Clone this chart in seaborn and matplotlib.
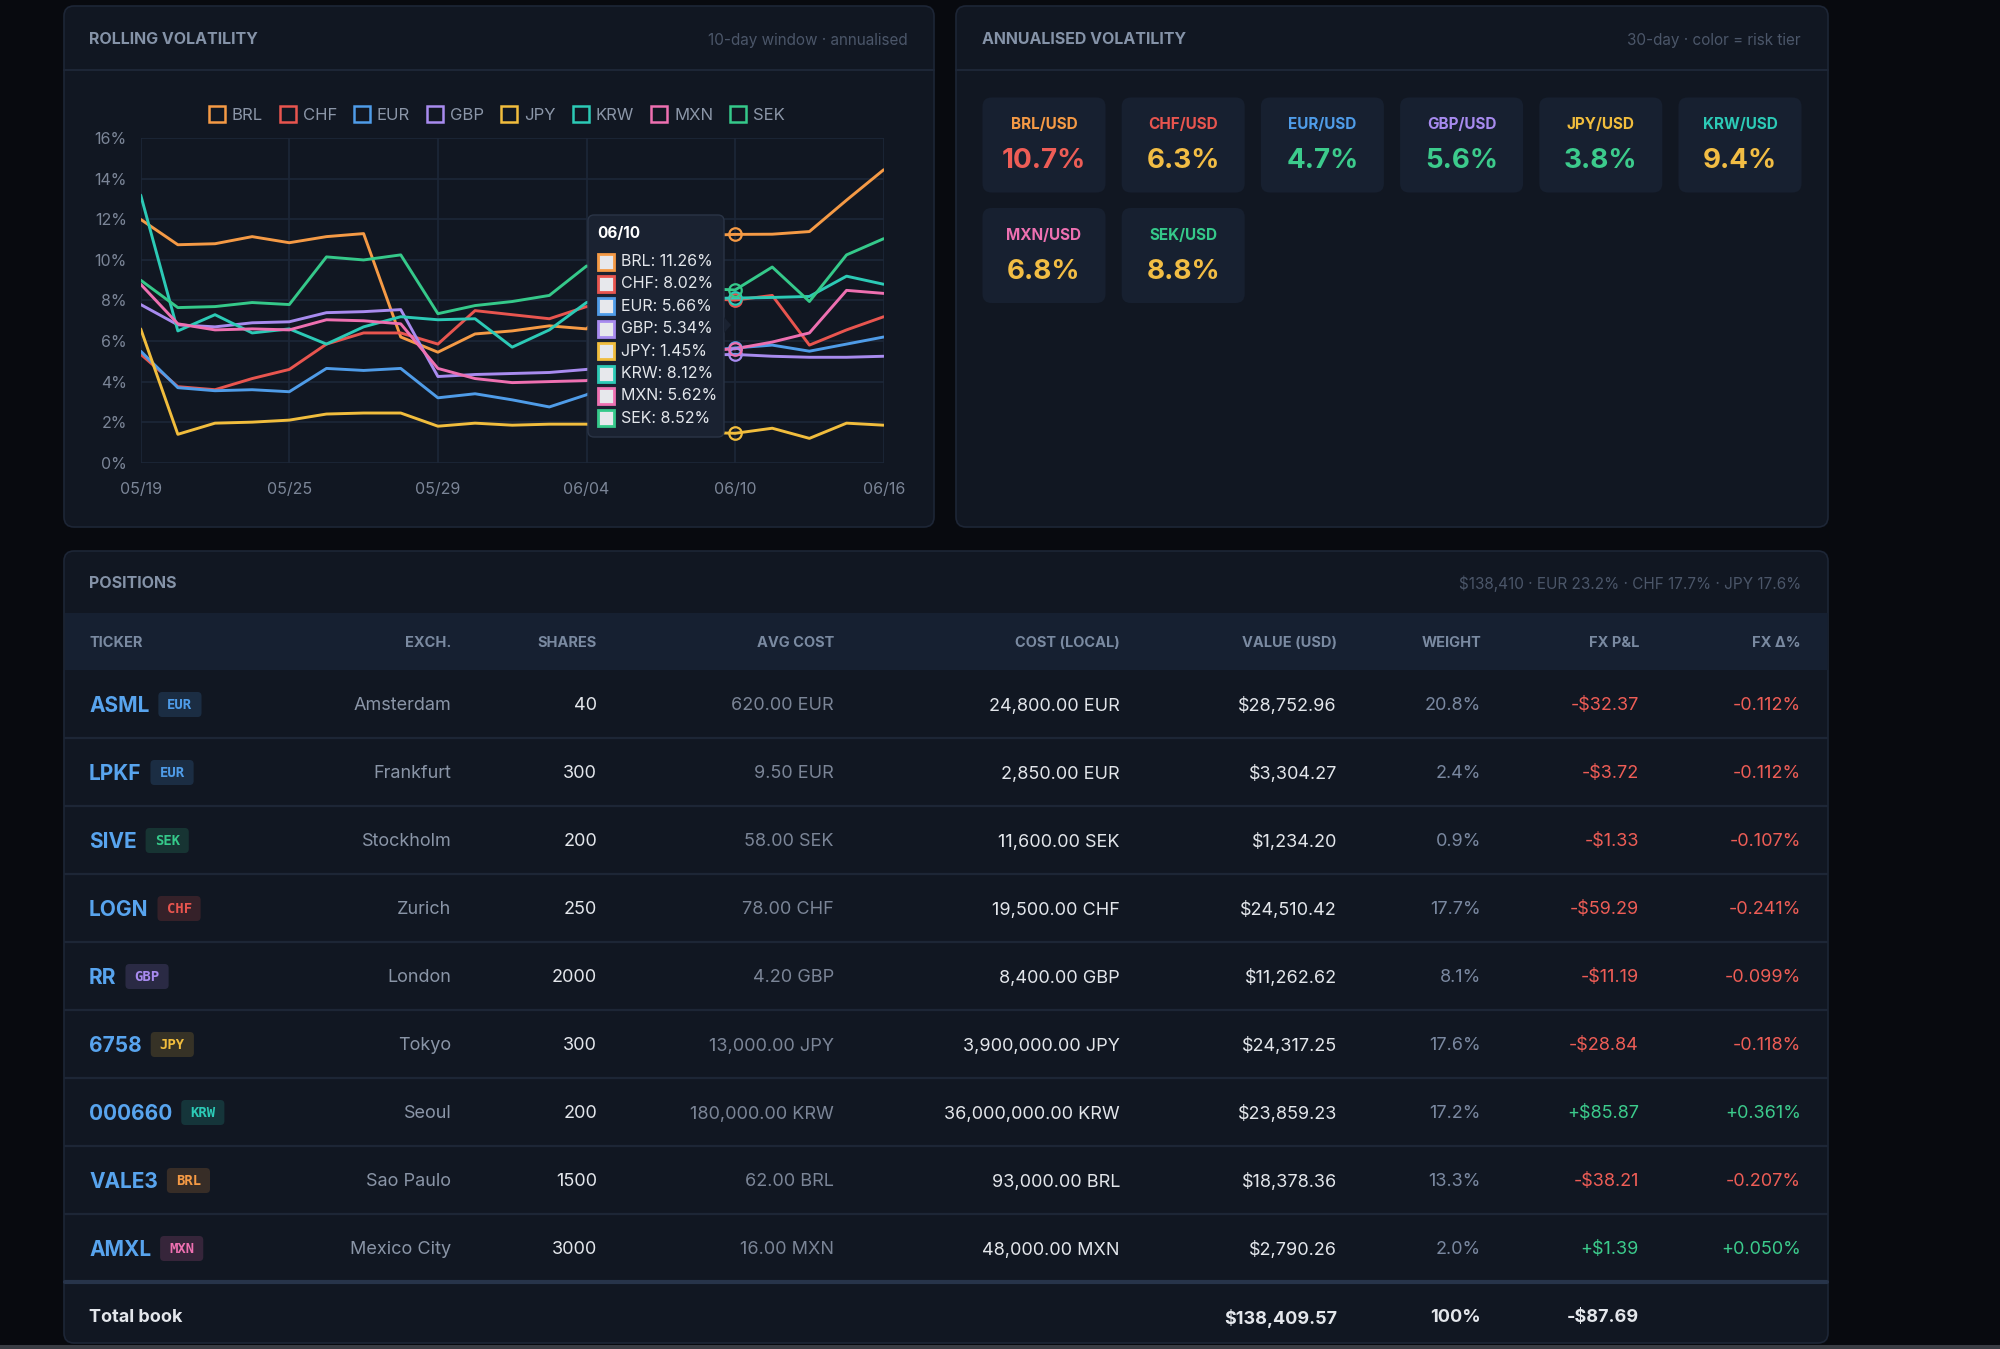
import matplotlib
matplotlib.use("Agg")
import matplotlib.pyplot as plt
import matplotlib.colors as mcolors
from matplotlib.patches import FancyBboxPatch, Rectangle, Polygon
from matplotlib.lines import Line2D
import numpy as np
import pandas as pd
import seaborn as sns

W, H = 2000, 1349

# ---- rolling volatility (10-day, annualised, %) ----
dates = ["05/19", "05/20", "05/21", "05/22", "05/25", "05/26", "05/27", "05/28",
         "05/29", "06/01", "06/02", "06/03", "06/04", "06/05", "06/08", "06/09",
         "06/10", "06/11", "06/12", "06/15", "06/16"]
currencies = ["BRL", "CHF", "EUR", "GBP", "JPY", "KRW", "MXN", "SEK"]
brl = [12.0, 10.75, 10.8, 11.15, 10.85, 11.15, 11.3, 6.2, 5.45, 6.35, 6.5, 6.75, 6.6,
       8.4, 10.6, 11.2, 11.26, 11.27, 11.4, 12.95, 14.45]
chf = [5.35, 3.75, 3.6, 4.15, 4.6, 5.85, 6.4, 6.4, 5.85, 7.5, 7.3, 7.1, 7.7,
       7.5, 7.9, 8.1, 8.02, 8.25, 5.8, 6.55, 7.2]
eur = [5.5, 3.7, 3.55, 3.6, 3.5, 4.65, 4.55, 4.65, 3.2, 3.4, 3.1, 2.75, 3.35,
       4.2, 5.0, 5.5, 5.66, 5.8, 5.5, 5.85, 6.2]
gbp = [7.8, 6.8, 6.7, 6.9, 6.95, 7.4, 7.45, 7.55, 4.25, 4.35, 4.4, 4.45, 4.6,
       4.9, 5.2, 5.3, 5.34, 5.25, 5.2, 5.2, 5.25]
jpy = [6.6, 1.4, 1.95, 2.0, 2.1, 2.4, 2.45, 2.45, 1.8, 1.95, 1.85, 1.9, 1.9,
       1.8, 1.6, 1.5, 1.45, 1.7, 1.2, 1.95, 1.85]
krw = [13.2, 6.5, 7.3, 6.4, 6.6, 5.85, 6.7, 7.2, 7.05, 7.1, 5.7, 6.55, 7.9,
       8.3, 8.0, 8.1, 8.12, 8.15, 8.2, 9.2, 8.8]
mxn = [8.8, 6.85, 6.55, 6.6, 6.55, 7.05, 7.0, 6.85, 4.65, 4.15, 3.95, 4.0, 4.05,
       4.6, 5.2, 5.5, 5.62, 5.95, 6.4, 8.5, 8.35]
sek = [9.0, 7.65, 7.7, 7.9, 7.8, 10.15, 10.0, 10.25, 7.35, 7.75, 7.95, 8.25, 9.7,
       9.4, 9.0, 8.6, 8.52, 9.65, 7.95, 10.25, 11.05]
hover_date = "06/10"

# ---- 30-day annualised vol cards ----
vol_30d = [10.7, 6.3, 4.7, 5.6, 3.8, 9.4, 6.8, 8.8]

# ---- positions ----
tickers = ["ASML", "LPKF", "SIVE", "LOGN", "RR", "6758", "000660", "VALE3", "AMXL"]
pos_ccy = ["EUR", "EUR", "SEK", "CHF", "GBP", "JPY", "KRW", "BRL", "MXN"]
exchanges = ["Amsterdam", "Frankfurt", "Stockholm", "Zurich", "London", "Tokyo",
             "Seoul", "Sao Paulo", "Mexico City"]
shares = [40, 300, 200, 250, 2000, 300, 200, 1500, 3000]
avg_cost = [620.00, 9.50, 58.00, 78.00, 4.20, 13000.00, 180000.00, 62.00, 16.00]
cost_local = [24800.00, 2850.00, 11600.00, 19500.00, 8400.00, 3900000.00,
              36000000.00, 93000.00, 48000.00]
value_usd = [28752.96, 3304.27, 1234.20, 24510.42, 11262.62, 24317.25, 23859.23,
             18378.36, 2790.26]
weight = [20.8, 2.4, 0.9, 17.7, 8.1, 17.6, 17.2, 13.3, 2.0]
fx_pnl = [-32.37, -3.72, -1.33, -59.29, -11.19, -28.84, 85.87, -38.21, 1.39]
fx_pct = [-0.112, -0.112, -0.107, -0.241, -0.099, -0.118, 0.361, -0.207, 0.050]
col_heads = ["TICKER", "EXCH.", "SHARES", "AVG COST", "COST (LOCAL)", "VALUE (USD)",
             "WEIGHT", "FX P&L", "FX Δ%"]
summary = "$138,410 · EUR 23.2% · CHF 17.7% · JPY 17.6%"

# colours
PAGE = "#080a0f"
PANEL = "#111722"
CARD = "#172030"
BAND = "#162031"
BORDER = "#1d2636"
GRID = "#1d2738"
TITLE = "#8593a8"
DIM = "#4b5669"
TICK = "#7b8597"
TEXT = "#e3e6eb"
RED = "#ee5d56"
GREEN = "#3ccb8c"
AMBER = "#f2bd44"
ccy_colors = {"BRL": "#f59a45", "CHF": "#e8554f", "EUR": "#4f9ce8", "GBP": "#a88bef",
              "JPY": "#f1bd3d", "KRW": "#2ccab6", "MXN": "#ee70b1", "SEK": "#35c98a"}

sns.set_theme(style="dark")
plt.rcParams["font.family"] = ["Inter", "DejaVu Sans"]

fig = plt.figure(figsize=(W / 100, H / 100), dpi=100, facecolor=PAGE)


def full_axes(z):
    a = fig.add_axes([0, 0, 1, 1], zorder=z)
    a.set_xlim(0, W)
    a.set_ylim(H, 0)
    a.axis("off")
    return a


bg = full_axes(0)


def panel(a, x0, y0, x1, y1, fc=PANEL, ec=BORDER, r=10, lw=1.2):
    a.add_patch(FancyBboxPatch((x0, y0), x1 - x0, y1 - y0,
                               boxstyle=f"round,pad=0,rounding_size={r}",
                               fc=fc, ec=ec, lw=lw))


def txt(a, x, y, s, **kw):
    kw.setdefault("va", "center")
    kw.setdefault("parse_math", False)
    return a.text(x, y, s, **kw)


# panels
panel(bg, 64, 6, 934, 527)
panel(bg, 956, 6, 1828, 527)
panel(bg, 64, 551, 1828, 1343)
bg.plot([64, 934], [70, 70], color=BORDER, lw=1.5)
bg.plot([956, 1828], [70, 70], color=BORDER, lw=1.5)
bg.add_patch(Rectangle((64.6, 613), 1763, 57, fc=BAND, ec="none"))
bg.add_patch(Rectangle((0, 1345), W, 4, fc="#3a3d44", ec="none"))

txt(bg, 89, 40, "ROLLING VOLATILITY", color=TITLE, fontsize=11.5, fontweight="bold")
txt(bg, 908, 40, "10-day window · annualised", color=DIM, fontsize=11, ha="right")
txt(bg, 982, 40, "ANNUALISED VOLATILITY", color=TITLE, fontsize=11.5, fontweight="bold")
txt(bg, 1801, 40, "30-day · color = risk tier", color=DIM, fontsize=11, ha="right")
txt(bg, 89, 584, "POSITIONS", color=TITLE, fontsize=11.5, fontweight="bold")
txt(bg, 1801, 584, summary, color=DIM, fontsize=11, ha="right")

# ---- line chart ----
ax = fig.add_axes([140.7 / W, 1 - 462.7 / H, 743 / W, 324.4 / H], zorder=1)
ax.set_facecolor("none")
series = dict(zip(currencies, [brl, chf, eur, gbp, jpy, krw, mxn, sek]))
df = pd.DataFrame(series)
df["pos"] = range(len(dates))
long = df.melt(id_vars="pos", var_name="ccy", value_name="vol")
sns.lineplot(data=long, x="pos", y="vol", hue="ccy", palette=ccy_colors,
             linewidth=2.1, legend=False, ax=ax)

hi = dates.index(hover_date)
for c in currencies:
    ax.plot(hi, series[c][hi], marker="o", ms=9, mfc="none", mec=ccy_colors[c],
            mew=1.6, zorder=5, clip_on=False)

ax.set_xlim(0, len(dates) - 1)
ax.set_ylim(0, 16)
ax.set_xticks(range(0, len(dates), 4))
ax.set_xticklabels(dates[::4])
ax.set_yticks(range(0, 17, 2))
ax.set_yticklabels([f"{v}%" for v in range(0, 17, 2)])
ax.set_xlabel("")
ax.set_ylabel("")
ax.grid(True, color=GRID, lw=1.2)
for s in ax.spines.values():
    s.set_visible(False)
ax.tick_params(axis="both", length=0, colors=TICK, labelsize=11.5)
ax.tick_params(axis="y", pad=10)
ax.tick_params(axis="x", pad=14)

handles = [Line2D([], [], ls="none", marker="s", ms=11, mfc=PANEL,
                  mec=ccy_colors[c], mew=1.8) for c in currencies]
fig.legend(handles, currencies, loc="center", bbox_to_anchor=(497 / W, 1 - 115 / H),
           ncol=len(currencies), frameon=False, fontsize=12, labelcolor="#8b96a8",
           handlelength=0.9, handletextpad=0.45, columnspacing=1.05)

ov = full_axes(5)

# tooltip
panel(ov, 588, 215, 724, 437, fc="#1a2231", ec="#2a3446", r=6, lw=1)
ov.add_patch(Polygon([(724, 317), (731, 325), (724, 333)], closed=True,
                     fc="#1a2231", ec="none"))
txt(ov, 597, 234, hover_date, color="white", fontsize=11, fontweight="bold")
for k, c in enumerate(currencies):
    yy = 261.5 + 22.4 * k
    ov.add_patch(Rectangle((597.5, yy - 8), 16, 16, fc="#e7e8ec", ec=ccy_colors[c], lw=2))
    txt(ov, 621, yy, f"{c}: {series[c][hi]:.2f}%", color=TEXT, fontsize=11.5)


# ---- volatility cards ----
def tier(v):
    if v >= 10:
        return RED
    if v >= 6:
        return AMBER
    return GREEN


for k, (c, v) in enumerate(zip(currencies, vol_30d)):
    x0 = 982.5 + (k % 6) * 139.2
    y0 = 97.5 + (k // 6) * 110.5
    panel(bg, x0, y0, x0 + 123, y0 + 95, fc=CARD, ec="none", r=9)
    txt(ov, x0 + 61.5, y0 + 27, f"{c}/USD", color=ccy_colors[c], fontsize=11,
        fontweight="bold", ha="center")
    txt(ov, x0 + 61.5, y0 + 64, f"{v:.1f}%", color=tier(v), fontsize=20,
        fontweight="bold", ha="center")

# ---- positions table ----
col_right = [None, 451.5, 597, 834, 1120, 1337, 1481, 1639, 1801]
for j, h in enumerate(col_heads):
    if j == 0:
        txt(ov, 89, 643, h, color="#7a8aa1", fontsize=10.5, fontweight="bold")
    else:
        txt(ov, col_right[j], 643, h, color="#7a8aa1", fontsize=10.5, fontweight="bold",
            ha="right")

renderer = fig.canvas.get_renderer()


def money(v):
    return ("+" if v > 0 else "-") + f"${abs(v):,.2f}"


for i in range(len(tickers)):
    yc = 704 + 68 * i
    if i < len(tickers) - 1:
        bg.plot([64.6, 1827.4], [yc + 34, yc + 34], color=BORDER, lw=1.6)
    t = txt(ov, 89, yc + 2, tickers[i], color="#58a4ee", fontsize=15, fontweight="bold")
    x_end = t.get_window_extent(renderer).x1
    cc = ccy_colors[pos_ccy[i]]
    bt = txt(ov, 0, yc + 1, pos_ccy[i], color=cc, fontsize=10, fontweight="bold",
             family="DejaVu Sans Mono", ha="center")
    bw = bt.get_window_extent(renderer).width + 18
    bx = x_end + 9
    bt.set_x(bx + bw / 2)
    ov.add_patch(FancyBboxPatch((bx, yc - 12), bw, 25, boxstyle="round,pad=0,rounding_size=4",
                                fc=mcolors.to_rgba(cc, 0.17), ec="none"))
    pcol = GREEN if fx_pnl[i] > 0 else RED
    cells = [(exchanges[i], "#8a95a7"), (f"{shares[i]}", TEXT),
             (f"{avg_cost[i]:,.2f} {pos_ccy[i]}", "#7b8597"),
             (f"{cost_local[i]:,.2f} {pos_ccy[i]}", TEXT),
             (f"${value_usd[i]:,.2f}", TEXT), (f"{weight[i]:.1f}%", "#7a88a0"),
             (money(fx_pnl[i]), pcol), (f"{fx_pct[i]:+.3f}%", pcol)]
    for j, (s, col) in enumerate(cells, start=1):
        txt(ov, col_right[j], yc + 2, s, color=col, fontsize=13, ha="right")

bg.plot([64.6, 1827.4], [1282, 1282], color="#27344a", lw=3)
yt = 1318
txt(ov, 89, yt, "Total book", color=TEXT, fontsize=13, fontweight="bold")
txt(ov, col_right[5], yt, f"${sum(value_usd):,.2f}", color=TEXT, fontsize=13,
    fontweight="bold", ha="right")
txt(ov, col_right[6], yt, f"{sum(weight):.0f}%", color=TEXT, fontsize=13,
    fontweight="bold", ha="right")
txt(ov, col_right[7], yt, money(sum(fx_pnl)), color=TEXT, fontsize=13,
    fontweight="bold", ha="right")

fig.savefig("out.png", dpi=100, facecolor=PAGE)
